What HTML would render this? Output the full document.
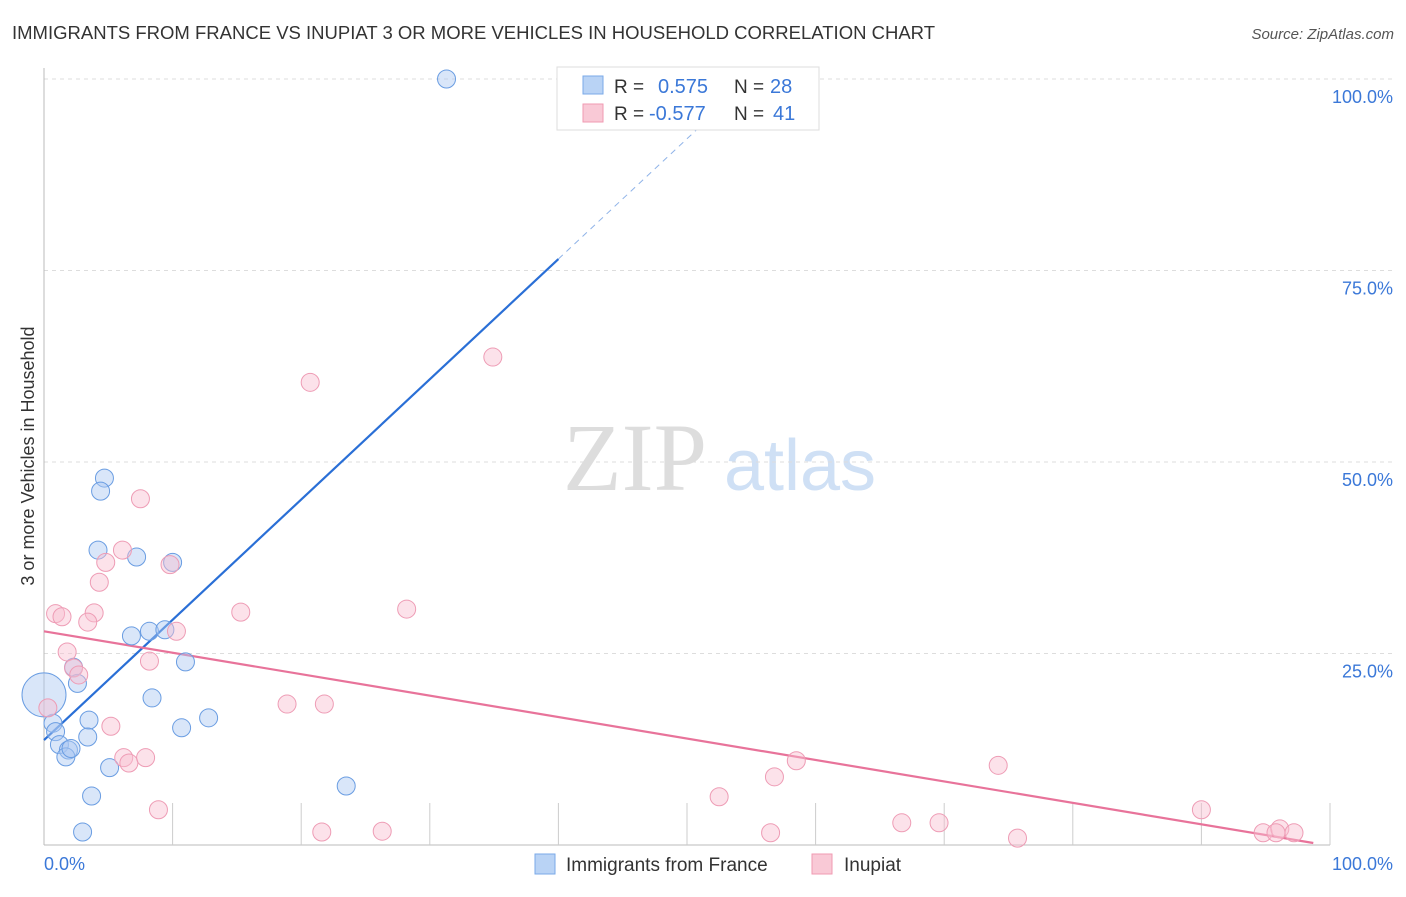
<!DOCTYPE html>
<html><head><meta charset="utf-8"><style>
body{margin:0;background:#fff;font-family:"Liberation Sans",sans-serif;}
</style></head><body>
<svg id="chart" width="1406" height="892" xmlns="http://www.w3.org/2000/svg" font-family="Liberation Sans, sans-serif">
<text x="12" y="39" font-size="18" fill="#333" textLength="923" lengthAdjust="spacingAndGlyphs">IMMIGRANTS FROM FRANCE VS INUPIAT 3 OR MORE VEHICLES IN HOUSEHOLD CORRELATION CHART</text>
<text x="1394" y="39" font-size="15" fill="#555" text-anchor="end" font-style="italic">Source: ZipAtlas.com</text>
<text transform="translate(34,456) rotate(-90)" font-size="18" fill="#333" text-anchor="middle">3 or more Vehicles in Household</text>
<g>
<text x="635" y="490" font-size="96" fill="#ddd" font-family="Liberation Serif, serif" text-anchor="middle">ZIP</text>
<text x="800" y="490" font-size="72" fill="#cfe0f5" text-anchor="middle">atlas</text>
</g>
<g id="grid"></g><g id="axes"></g><g id="trend"></g><g id="pts"></g>
<g>
<rect x="557" y="67" width="262" height="63" fill="#fff" stroke="#ddd"/>
<rect x="583" y="76" width="20" height="18" fill="#b9d3f5" stroke="#7aaae8"/>
<text x="614" y="93" font-size="19" fill="#333">R = </text><text x="658" y="93" font-size="20" fill="#3b78d8">0.575</text>
<text x="734" y="93" font-size="19" fill="#333">N = </text><text x="770" y="93" font-size="20" fill="#3b78d8">28</text>
<rect x="583" y="104" width="20" height="18" fill="#f9c9d6" stroke="#f09ab2"/>
<text x="614" y="120" font-size="19" fill="#333">R = </text><text x="649" y="120" font-size="20" fill="#3b78d8">-0.577</text>
<text x="734" y="120" font-size="19" fill="#333">N = </text><text x="773" y="120" font-size="20" fill="#3b78d8">41</text>
</g>
<g>
<rect x="535" y="854" width="20" height="20" fill="#b9d3f5" stroke="#7aaae8"/>
<text x="566" y="871" font-size="19" fill="#333">Immigrants from France</text>
<rect x="812" y="854" width="20" height="20" fill="#f9c9d6" stroke="#f09ab2"/>
<text x="844" y="871" font-size="19" fill="#333">Inupiat</text>
</g>
</svg>
<script>
const yTicks=[25,50,75,100];
const yTickLabels=["25.0%","50.0%","75.0%","100.0%"];
const blueX=[31.3,4.7,4.4,4.2,7.2,10,6.8,8.2,9.4,2.3,2.6,11.0,8.4,0.7,0.9,3.5,3.4,10.7,12.8,1.2,1.9,1.7,2.1,5.1,3.7,23.5,3.0,0];
const blueY=[100,47.9,46.2,38.5,37.6,36.9,27.3,27.9,28.1,23.2,21.1,23.9,19.2,15.9,14.8,16.3,14.1,15.3,16.6,13.1,12.4,11.5,12.6,10.1,6.4,7.7,1.7,19.6];
const pinkX=[34.9,20.7,7.5,6.1,4.8,9.8,4.3,0.9,1.4,3.9,3.4,15.3,28.2,10.3,1.8,2.3,2.7,8.2,0.3,5.2,18.9,21.8,6.2,6.6,7.9,8.9,21.6,26.3,58.5,56.8,52.5,56.5,66.7,69.6,75.7,74.2,90.0,94.8,96.1,95.8,97.2];
const pinkY=[63.7,60.4,45.2,38.5,36.9,36.6,34.3,30.2,29.8,30.3,29.1,30.4,30.8,27.9,25.2,23.1,22.2,24.0,17.9,15.5,18.4,18.4,11.4,10.7,11.4,4.6,1.7,1.8,11.0,8.9,6.3,1.6,2.9,2.9,0.9,10.4,4.6,1.6,2.1,1.6,1.6];
const blueTrend=[13.7,1.57];
const pinkTrend=[27.9,-0.28];
const X=v=>44+v*12.86, Y=v=>845-v*7.66;
const NS="http://www.w3.org/2000/svg";
function mk(parent,tag,attrs){const e=document.createElementNS(NS,tag);for(const k in attrs)e.setAttribute(k,attrs[k]);document.getElementById(parent).appendChild(e);return e;}
yTicks.forEach((t,i)=>{
 const g=mk('grid','line',{x1:44,x2:1394,y1:Y(t),y2:Y(t),stroke:'#ddd','stroke-dasharray':'4,4'});
 
 
 const l=mk('grid','text',{x:1393,y:Y(t)+24,'font-size':18,fill:'#3b78d8','text-anchor':'end'});
 l.textContent=yTickLabels[i];
 
 
});
mk('axes','line',{x1:44,x2:44,y1:68,y2:845,stroke:'#bbb'});
mk('axes','line',{x1:44,x2:1330,y1:845,y2:845,stroke:'#bbb'});
for(let i=1;i<=10;i++){mk('axes','line',{x1:X(i*10),x2:X(i*10),y1:803,y2:845,stroke:'#ccc'});}
const x0=mk('axes','text',{x:44,y:870,'font-size':18,fill:'#3b78d8'});x0.textContent='0.0%';


const x1=mk('axes','text',{x:1393,y:870,'font-size':18,fill:'#3b78d8','text-anchor':'end'});x1.textContent='100.0%';


function pt(x,y,r,fill,stroke,name){const c=mk('pts','circle',{cx:X(x),cy:Y(y),r:r,fill:fill,stroke:stroke,'stroke-width':1});
 
 }
blueX.forEach((x,i)=>pt(x,blueY[i],i==blueX.length-1?22:9,'rgba(170,200,242,0.45)','#6a9de2','point-france'));
pinkX.forEach((x,i)=>pt(x,pinkY[i],9,'rgba(248,190,208,0.45)','#ee9cb5','point-inupiat'));
const bt=v=>blueTrend[0]+blueTrend[1]*v;
let a=mk('trend','line',{x1:X(0),y1:Y(bt(0)),x2:X(40),y2:Y(bt(40)),stroke:'#2a6fd6','stroke-width':2.2});


let b=mk('trend','line',{x1:X(40),y1:Y(bt(40)),x2:X(52.5),y2:Y(bt(52.5)),stroke:'#8fb3e8','stroke-width':1,'stroke-dasharray':'6,5'});


const pt2=v=>pinkTrend[0]+pinkTrend[1]*v;
let c=mk('trend','line',{x1:X(0),y1:Y(pt2(0)),x2:X(98.7),y2:Y(pt2(98.7)),stroke:'#e8739a','stroke-width':2.2});


</script>
</body></html>
